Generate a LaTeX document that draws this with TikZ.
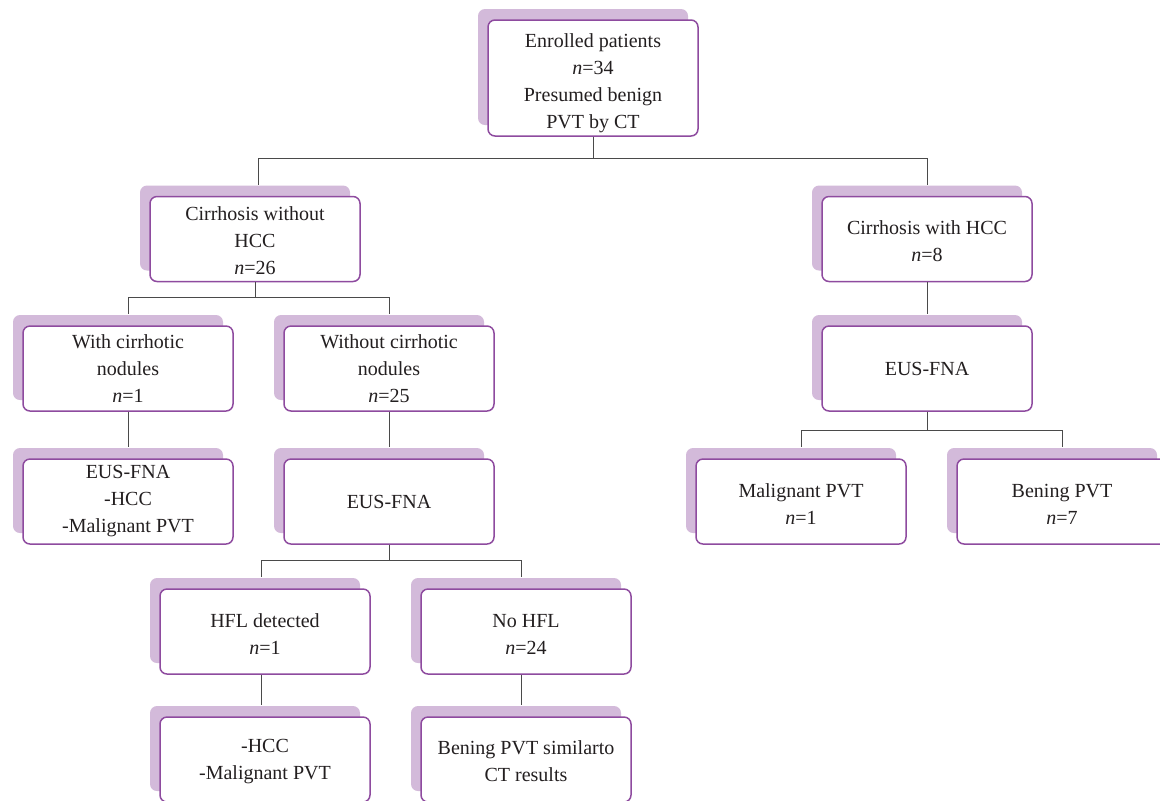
\documentclass[tikz,border=0pt]{standalone}
\usepackage{fontspec}
\setmainfont{Liberation Serif}
\usetikzlibrary{shadows,positioning}
\definecolor{boxline}{HTML}{8E4B9F}
\definecolor{boxshade}{HTML}{D3BADA}
\definecolor{linkgray}{HTML}{4A4A4A}
\definecolor{txt}{HTML}{231F20}
\newcommand{\topstrut}[1]{\rule{0pt}{#1}}
\tikzset{flowbox/.style={rectangle, rounded corners=3.5pt, draw=boxline, line width=0.75pt, fill=white, text=txt, align=center, minimum width=105pt, minimum height=42.5pt, inner sep=0pt, font=\fontsize{10}{13.5}\selectfont, drop shadow={shadow xshift=-5pt, shadow yshift=5.5pt, fill=boxshade, draw=none, opacity=1}}}
\tikzset{tallbox/.style={flowbox, minimum height=58pt}}
\tikzset{link/.style={draw=linkgray, line width=0.5pt}}

\begin{document}
\begin{tikzpicture}[x=0.5pt, y=-0.5pt]
    \clip (0,0) rectangle (1160,800);
    \fill[white] (0,0) rectangle (1160,800);

    \node[tallbox] (top)     at (593, 78)    {\topstrut{12pt}Enrolled patients\\ \textit{n}=34\\ Presumed benign\\ PVT by CT};
    \node[flowbox] (cwo)     at (255, 239)   {\topstrut{9pt}Cirrhosis without\\ HCC\\ \textit{n}=26};
    \node[flowbox] (cwh)     at (927, 239)   {\topstrut{9pt}Cirrhosis with HCC\\ \textit{n}=8};
    \node[flowbox] (wcn)     at (128, 368.5) {With cirrhotic\\ nodules\\ \textit{n}=1};
    \node[flowbox] (wocn)    at (389, 368.5) {Without cirrhotic\\ nodules\\ \textit{n}=25};
    \node[flowbox] (fnar)    at (927, 368.5) {EUS-FNA};
    \node[flowbox] (fnal)    at (128, 501.5) {EUS-FNA\\ -HCC\\ -Malignant PVT};
    \node[flowbox] (fnam)    at (389, 501.5) {EUS-FNA};
    \node[flowbox] (malig)   at (801, 501.5) {\topstrut{9pt}Malignant PVT\\ \textit{n}=1};
    \node[flowbox] (bening)  at (1062, 501.5) {\topstrut{9pt}Bening PVT\\ \textit{n}=7};
    \node[flowbox] (hfl)     at (265, 631.5) {\topstrut{9pt}HFL detected\\ \textit{n}=1};
    \node[flowbox] (nohfl)   at (526, 631.5) {\topstrut{9pt}No HFL\\ \textit{n}=24};
    \node[flowbox] (hcc)     at (265, 759.5) {\topstrut{9pt}-HCC\\ -Malignant PVT};
    \node[flowbox] (similar) at (526, 759.5) {\topstrut{9pt}Bening PVT similarto\\ CT results};

    \draw[link] (top.south) -- ++(0,22) -| ([xshift=1.5pt, yshift=5.5pt]cwo.north);
    \draw[link] (top.south) -- ++(0,22) -| ([yshift=5.5pt]cwh.north);
    \draw[link] (cwo.south) -- ++(0,15) -| ([yshift=5.5pt]wcn.north);
    \draw[link] (cwo.south) -- ++(0,15) -| ([yshift=5.5pt]wocn.north);
    \draw[link] (wcn.south) -- ([yshift=5.5pt]fnal.north);
    \draw[link] (wocn.south) -- ([yshift=5.5pt]fnam.north);
    \draw[link] (cwh.south) -- ([yshift=5.5pt]fnar.north);
    \draw[link] (fnar.south) -- ++(0,19) -| ([yshift=5.5pt]malig.north);
    \draw[link] (fnar.south) -- ++(0,19) -| ([yshift=5.5pt]bening.north);
    \draw[link] (fnam.south) -- ++(0,16) -| ([xshift=-2pt, yshift=5.5pt]hfl.north);
    \draw[link] (fnam.south) -- ++(0,16) -| ([xshift=-2.5pt, yshift=5.5pt]nohfl.north);
    \draw[link] (hfl.south) ++(-2pt,0) -- ([xshift=-2pt, yshift=5.5pt]hcc.north);
    \draw[link] (nohfl.south) ++(-2.5pt,0) -- ([xshift=-2.5pt, yshift=5.5pt]similar.north);
\end{tikzpicture}
\end{document}
